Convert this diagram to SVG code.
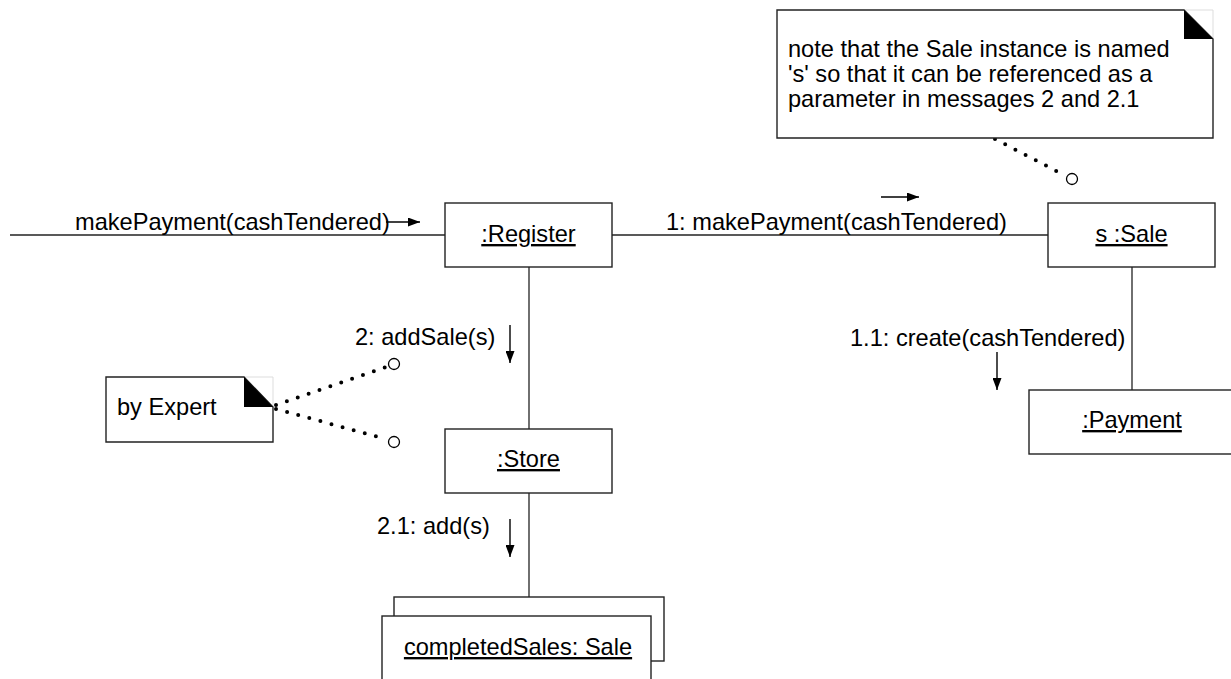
<svg xmlns="http://www.w3.org/2000/svg" width="1231" height="679" viewBox="0 0 1231 679">
  <style>
    .box { fill: #ffffff; stroke: #222; stroke-width: 1.4; }
    .note { fill: #ffffff; stroke: #222; stroke-width: 1.4; }
    .fold { fill: #000000; stroke: none; }
    .ghost { fill: none; stroke: #dddddd; stroke-width: 1; }
    .t { font-family: "Liberation Sans", Arial, Helvetica, sans-serif; font-size: 23.6px; fill: #000; }
    .c { text-anchor: middle; }
    .u { text-decoration: underline; }
    .link { stroke: #222; stroke-width: 1.3; fill: none; }
    .msg { stroke: #000; stroke-width: 1.4; fill: none; }
    .dots { stroke: #000; stroke-width: 4; stroke-linecap: round; stroke-dasharray: 0 11.5; fill: none; }
    .anchor { fill: #ffffff; stroke: #000; stroke-width: 1.3; }
  </style>
  <defs>
    <marker id="ah" markerUnits="userSpaceOnUse" markerWidth="13" markerHeight="9" refX="12" refY="4.5" orient="auto">
      <path d="M0,0 L12,4.5 L0,9 Z" fill="#000"/>
    </marker>
  </defs>
  <rect width="1231" height="679" fill="#ffffff"/>

  <g id="connectors">
    <line class="link" x1="10" y1="235" x2="445" y2="235"/>
    <line class="link" x1="612" y1="235" x2="1048" y2="235"/>
    <line class="link" x1="529" y1="267" x2="529" y2="429"/>
    <line class="link" x1="529" y1="493" x2="529" y2="597"/>
    <line class="link" x1="1132" y1="267" x2="1132" y2="390"/>

    <line class="msg" x1="386" y1="222" x2="420" y2="222" marker-end="url(#ah)"/>
    <text class="t" x="75" y="230">makePayment(cashTendered)</text>

    <line class="msg" x1="881" y1="197" x2="919" y2="197" marker-end="url(#ah)"/>
    <text class="t" x="666" y="230">1: makePayment(cashTendered)</text>

    <line class="msg" x1="510" y1="325" x2="510" y2="363" marker-end="url(#ah)"/>
    <text class="t" x="355" y="345">2: addSale(s)</text>

    <line class="msg" x1="510" y1="519" x2="510" y2="557" marker-end="url(#ah)"/>
    <text class="t" x="377" y="534">2.1: add(s)</text>

    <line class="msg" x1="997" y1="352" x2="997" y2="390" marker-end="url(#ah)"/>
    <text class="t" x="850" y="346">1.1: create(cashTendered)</text>

    <path class="dots" d="M276,405 L386,367"/>
    <path class="dots" d="M276,409 L386,439"/>
    <circle class="anchor" cx="394" cy="364" r="5.5"/>
    <circle class="anchor" cx="394" cy="442" r="5.5"/>

    <path class="dots" d="M995,139 L1064,175"/>
    <circle class="anchor" cx="1072" cy="179" r="5.5"/>
  </g>

  <g id="note-sale">
    <path class="ghost" d="M1184,10 H1213 V39"/>
    <path class="note" d="M777,10 H1184 L1213,39 V138 H777 Z"/>
    <path class="fold" d="M1184,10 V39 H1213 Z"/>
    <text class="t" x="788" y="57">note that the Sale instance is named</text>
    <text class="t" x="788" y="82">'s' so that it can be referenced as a</text>
    <text class="t" x="788" y="107">parameter in messages 2 and 2.1</text>
  </g>

  <g id="note-expert">
    <path class="ghost" d="M244,377 H273 V407"/>
    <path class="note" d="M106,377 H244 L273,407 V442 H106 Z"/>
    <path class="fold" d="M244,377 V407 H273 Z"/>
    <text class="t" x="117" y="415">by Expert</text>
  </g>

  <g id="register">
    <rect class="box" x="445" y="203" width="167" height="64"/>
    <text class="t c u" x="528.5" y="242">:Register</text>
  </g>

  <g id="sale">
    <rect class="box" x="1048" y="203" width="167" height="64"/>
    <text class="t c u" x="1131.5" y="242">s :Sale</text>
  </g>

  <g id="store">
    <rect class="box" x="445" y="429" width="167" height="64"/>
    <text class="t c u" x="528.5" y="467">:Store</text>
  </g>

  <g id="payment">
    <rect class="box" x="1029" y="390" width="207" height="64"/>
    <text class="t c u" x="1132" y="428">:Payment</text>
  </g>

  <g id="completed-sales">
    <rect class="box" x="394" y="597" width="270" height="64"/>
    <rect class="box" x="382" y="616" width="269" height="80"/>
    <text class="t c u" x="518" y="655">completedSales: Sale</text>
  </g>
</svg>
